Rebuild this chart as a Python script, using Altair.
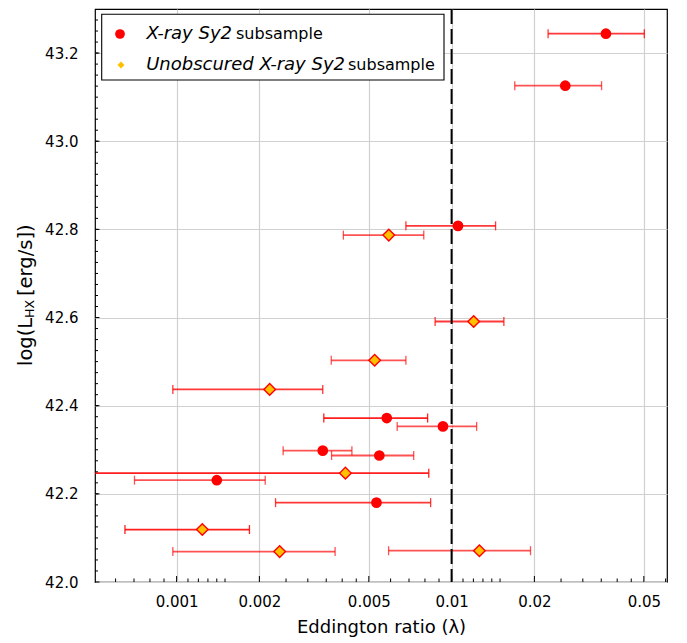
import altair as alt
import pandas as pd

# ---------------- data ----------------
# "X-ray Sy2 subsample" (red circles)
lam_xray = [0.0364, 0.0259, 0.01055, 0.00581, 0.00930, 0.00340, 0.00546, 0.00140, 0.00533]
lhx_xray = [43.244, 43.126, 42.808, 42.372, 42.353, 42.298, 42.287, 42.231, 42.180]
lo_xray = [0.02243, 0.01697, 0.00682, 0.00343, 0.00634, 0.00244, 0.00366, 0.000703, 0.00229]
hi_xray = [0.0502, 0.0351, 0.01445, 0.00818, 0.01233, 0.00434, 0.00728, 0.00210, 0.00839]
tier_xray = ["mid", "light", "mid", "dark", "light", "light", "light", "light", "mid"]

# "Unobscured X-ray Sy2 subsample" (orange diamonds)
lam_unobs = [0.00591, 0.01203, 0.00525, 0.00218, 0.00411, 0.00124, 0.00237, 0.01262]
lhx_unobs = [42.787, 42.591, 42.503, 42.437, 42.247, 42.119, 42.069, 42.071]
lo_unobs = [0.00404, 0.00871, 0.00365, 0.000969, 0.0003, 0.000649, 0.000969, 0.0059]
hi_unobs = [0.00792, 0.01549, 0.00682, 0.00340, 0.00826, 0.00184, 0.00377, 0.01936]
tier_unobs = ["light", "mid", "light", "mid", "dark", "dark", "light", "light"]

threshold = [0.01]

x_major = [0.001, 0.002, 0.005, 0.01, 0.02, 0.05]
x_minor = [0.0006, 0.0007, 0.0008, 0.0009,
           0.0011, 0.0012, 0.0013, 0.0014, 0.0015,
           0.0025, 0.003, 0.0035, 0.004, 0.0045,
           0.006, 0.007, 0.008, 0.009,
           0.011, 0.012, 0.013, 0.014, 0.015,
           0.025, 0.03, 0.035, 0.04, 0.045, 0.06]
y_major = [42.0, 42.2, 42.4, 42.6, 42.8, 43.0, 43.2]
y_minor = [round(42.0 + 0.025 * i, 3) for i in range(1, 52)]

legend_italic = ["X-ray Sy2", "Unobscured X-ray Sy2"]
legend_plain = ["subsample", "subsample"]
ytitle_parts = ["log(L", "HX", "[erg/s])"]

# ---------------- layout ----------------
W, H = 572, 573
FONT = "DejaVu Sans"

df = pd.DataFrame({
    "lam": lam_xray + lam_unobs,
    "lhx": lhx_xray + lhx_unobs,
    "lo": lo_xray + lo_unobs,
    "hi": hi_xray + hi_unobs,
    "tier": tier_xray + tier_unobs,
    "sample": ["xray"] * len(lam_xray) + ["unobs"] * len(lam_unobs),
})

xs = alt.Scale(type="log", domain=[0.000505, 0.0607])
ys = alt.Scale(domain=[42.0, 43.3], nice=False, zero=False)

X_AX = alt.Axis(values=x_major, format="~g", title="Eddington ratio (λ)", grid=True,
                ticks=False, domain=False, labelFontSize=15, labelPadding=12,
                labelOverlap=False, titleFontSize=18, titleFontWeight="normal",
                titlePadding=9, gridColor="#d0d0d0", gridWidth=1.2,
                labelColor="black", titleColor="black", labelFont=FONT, titleFont=FONT)
Y_AX = alt.Axis(values=y_major, format=".1f", title=None, grid=True, ticks=False,
                domain=False, labelFontSize=15, labelPadding=17, labelOverlap=False,
                gridColor="#d0d0d0", gridWidth=1.2, labelColor="black", labelFont=FONT)

op = alt.Opacity("tier:N", scale=alt.Scale(domain=["dark", "mid", "light"],
                                           range=[0.88, 0.68, 0.42]), legend=None)

bars = alt.Chart(df).mark_rule(color="red", strokeWidth=1.8, clip=True).encode(
    x=alt.X("lo:Q", scale=xs, axis=X_AX), x2="hi:Q",
    y=alt.Y("lhx:Q", scale=ys, axis=Y_AX), opacity=op)

cap_lo = alt.Chart(df).mark_tick(orient="vertical", size=9, thickness=1.3,
                                 color="red", clip=True).encode(
    x=alt.X("lo:Q", scale=xs, axis=X_AX), y=alt.Y("lhx:Q", scale=ys, axis=Y_AX), opacity=op)
cap_hi = alt.Chart(df).mark_tick(orient="vertical", size=9, thickness=1.3,
                                 color="red", clip=True).encode(
    x=alt.X("hi:Q", scale=xs, axis=X_AX), y=alt.Y("lhx:Q", scale=ys, axis=Y_AX), opacity=op)

circles = alt.Chart(df).transform_filter(alt.datum.sample == "xray").mark_point(
    shape="circle", filled=True, size=115, color="red", opacity=1).encode(
    x=alt.X("lam:Q", scale=xs, axis=X_AX), y=alt.Y("lhx:Q", scale=ys, axis=Y_AX))

diamonds = alt.Chart(df).transform_filter(alt.datum.sample == "unobs").mark_point(
    shape="diamond", filled=True, size=135, fill="#ffc000", stroke="red",
    strokeWidth=1.4, opacity=1).encode(
    x=alt.X("lam:Q", scale=xs, axis=X_AX), y=alt.Y("lhx:Q", scale=ys, axis=Y_AX))

vline = alt.Chart(pd.DataFrame({"v": threshold})).mark_rule(
    color="black", strokeWidth=2, strokeDash=[15, 5]).encode(
    x=alt.X("v:Q", scale=xs, axis=X_AX))

# inward ticks
xt_major = alt.Chart(pd.DataFrame({"v": x_major})).mark_rule(color="black", strokeWidth=1).encode(
    x=alt.X("v:Q", scale=xs, axis=X_AX), y=alt.value(H), y2=alt.value(H - 6))
xt_minor = alt.Chart(pd.DataFrame({"v": x_minor})).mark_rule(color="black", strokeWidth=1).encode(
    x=alt.X("v:Q", scale=xs, axis=X_AX), y=alt.value(H), y2=alt.value(H - 3.5))
yt_major = alt.Chart(pd.DataFrame({"v": y_major})).mark_rule(color="black", strokeWidth=1).encode(
    y=alt.Y("v:Q", scale=ys, axis=Y_AX), x=alt.value(0), x2=alt.value(4.5))
yt_minor = alt.Chart(pd.DataFrame({"v": y_minor})).mark_rule(color="black", strokeWidth=1).encode(
    y=alt.Y("v:Q", scale=ys, axis=Y_AX), x=alt.value(0), x2=alt.value(3))

# manual legend
one = pd.DataFrame({"k": [0]})
leg_box = alt.Chart(one).mark_rect(fill="white", stroke="black", strokeWidth=1.1).encode(
    x=alt.value(6.7), x2=alt.value(349), y=alt.value(5.3), y2=alt.value(71))
leg_c = alt.Chart(one).mark_point(shape="circle", filled=True, size=95, color="red", opacity=1).encode(
    x=alt.value(25), y=alt.value(25))
leg_d = alt.Chart(one).mark_point(shape="diamond", filled=True, size=50, color="#ffc000", opacity=1).encode(
    x=alt.value(26), y=alt.value(56))
leg_it1 = alt.Chart(pd.DataFrame({"t": [legend_italic[0]]})).mark_text(
    font=FONT, fontSize=18, fontStyle="italic", align="right", baseline="middle", color="black").encode(
    text="t:N", x=alt.value(137), y=alt.value(25))
leg_it2 = alt.Chart(pd.DataFrame({"t": [legend_italic[1]]})).mark_text(
    font=FONT, fontSize=18, fontStyle="italic", align="right", baseline="middle", color="black").encode(
    text="t:N", x=alt.value(250), y=alt.value(56))
leg_pl1 = alt.Chart(pd.DataFrame({"t": [legend_plain[0]]})).mark_text(
    font=FONT, fontSize=16, align="left", baseline="middle", color="black").encode(
    text="t:N", x=alt.value(141), y=alt.value(25))
leg_pl2 = alt.Chart(pd.DataFrame({"t": [legend_plain[1]]})).mark_text(
    font=FONT, fontSize=16, align="left", baseline="middle", color="black").encode(
    text="t:N", x=alt.value(253), y=alt.value(56))

# manual y-axis title with subscript
yt1 = alt.Chart(pd.DataFrame({"t": [ytitle_parts[0]]})).mark_text(
    font=FONT, fontSize=19.5, angle=270, align="left", baseline="alphabetic", color="black").encode(
    text="t:N", x=alt.value(-63.3), y=alt.value(357))
yt2 = alt.Chart(pd.DataFrame({"t": [ytitle_parts[1]]})).mark_text(
    font=FONT, fontSize=12.5, angle=270, align="left", baseline="alphabetic", color="black").encode(
    text="t:N", x=alt.value(-61.5), y=alt.value(309))
yt3 = alt.Chart(pd.DataFrame({"t": [ytitle_parts[2]]})).mark_text(
    font=FONT, fontSize=19.5, angle=270, align="left", baseline="alphabetic", color="black").encode(
    text="t:N", x=alt.value(-63.3), y=alt.value(287))

chart = alt.layer(
    bars, cap_lo, cap_hi, vline, circles, diamonds,
    xt_major, xt_minor, yt_major, yt_minor,
    leg_box, leg_c, leg_d, leg_it1, leg_it2, leg_pl1, leg_pl2,
    yt1, yt2, yt3,
).properties(
    width=W, height=H,
    autosize=alt.AutoSizeParams(type="none"),
    padding={"left": 87, "top": 1, "right": 10, "bottom": 60},
).configure(font=FONT).configure_view(stroke="black", strokeWidth=1.2)

chart.save("out.html", embed_options={"renderer": "svg", "actions": False})
